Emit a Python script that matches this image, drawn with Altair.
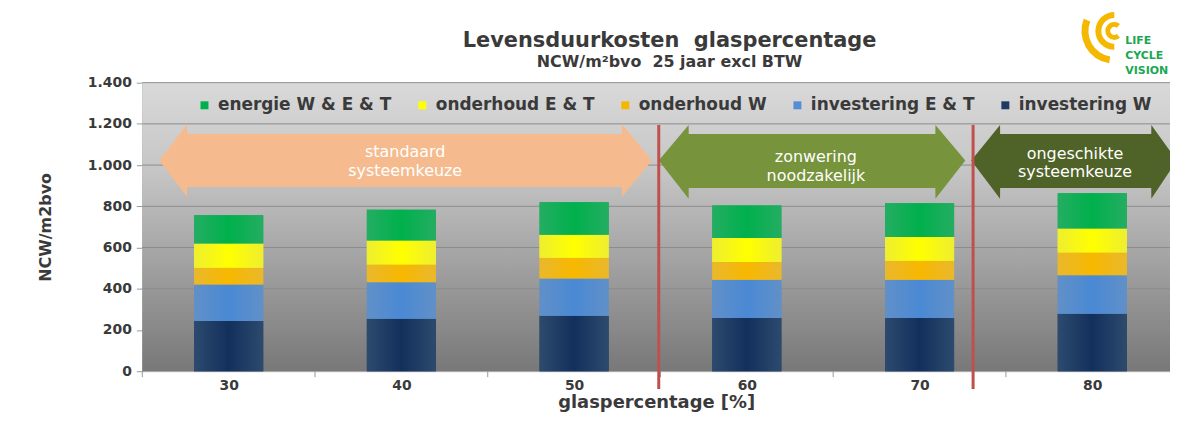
import altair as alt
import pandas as pd
import math

# ---------------- data ----------------
categories = ["30", "40", "50", "60", "70", "80"]
series = ["investering W", "investering E & T", "onderhoud W", "onderhoud E & T", "energie W & E & T"]
investering_W = [243, 254, 269, 258, 258, 279]
investering_ET = [178, 178, 181, 186, 186, 187]
onderhoud_W = [81, 86, 100, 86, 92, 110]
onderhoud_ET = [117, 116, 112, 116, 115, 116]
energie = [137, 149, 158, 158, 164, 171]
y_ticks = [0, 200, 400, 600, 800, 1000, 1200, 1400]

legend_order = ["energie W & E & T", "onderhoud E & T", "onderhoud W", "investering E & T", "investering W"]
solid_colors = {"investering W": "#1f3a63", "investering E & T": "#558ed5", "onderhoud W": "#f5b800",
                "onderhoud E & T": "#ffff00", "energie W & E & T": "#00b050"}
grad_colors = {"investering W": ("#2d4a6e", "#12305c"),
               "investering E & T": ("#6190c8", "#4a89d4"),
               "onderhoud W": ("#e9b82c", "#f8b800"),
               "onderhoud E & T": ("#eeee30", "#ffff00"),
               "energie W & E & T": ("#24ad62", "#00b04c")}

# annotation arrows (in category units / value units)
arrow_labels = ["standaard\nsysteemkeuze", "zonwering\nnoodzakelijk", "ongeschikte\nsysteemkeuze"]
arrow_colors = ["#f5bb8e", "#77933c", "#4f6228"]
arrow_left_tip = [0.098, 2.990, 4.799]
arrow_left_head = [0.259, 3.163, 4.966]
arrow_right_head = [2.777, 4.592, 5.842]
arrow_right_tip = [2.950, 4.765, 5.990]
arrow_mid = [1022, 1022, 1022]
arrow_head_top = [1199, 1194, 1194]
arrow_head_bot = [846, 837, 837]
arrow_shaft_top = [1151, 1151, 1151]
arrow_shaft_bot = [894, 889, 889]
label_x = [1.522, 3.90, 5.40]
label_y = [1062, 1037, 1056]
divider_x = [2.99, 4.81]

W, H = 1033, 290
XMAX = 5.95
FONT = "DejaVu Sans"
TXT = "#3a3a3a"
PAD_TOP, PAD_BOTTOM = 74, 41

# ---------------- tables ----------------
values = [investering_W, investering_ET, onderhoud_W, onderhoud_ET, energie]
rows = []
for i, c in enumerate(categories):
    base = 0
    for s, vals in zip(series, values):
        v = vals[i]
        rows.append({"cat": c, "series": s, "y0": base, "y1": base + v,
                     "xa": i + 0.3, "xb": i + 0.7})
        base += v
bars = pd.DataFrame(rows)

xs = alt.Scale(domain=[0, XMAX], nice=False, zero=False)
ys = alt.Scale(domain=[0, 1400], nice=False)

label_expr = "[" + ",".join("'%s'" % c for c in categories) + "][floor(datum.value)]"

x_axis = alt.Axis(values=[i + 0.5 for i in range(len(categories))], labelExpr=label_expr,
                  ticks=False, tickSize=0, grid=False, labelFont=FONT, labelFontWeight="bold",
                  labelFontSize=14, labelColor=TXT, labelPadding=7, domainColor="#aaaaaa",
                  title="glaspercentage [%]", titleFont=FONT, titleFontWeight="bold",
                  titleFontSize=18, titleColor=TXT, titlePadding=2)
y_axis = alt.Axis(values=y_ticks, grid=False, tickSize=6, tickColor="#999999", domainColor="#999999",
                  labelExpr="replace(format(datum.value, ','), ',', '.')",
                  labelFont=FONT, labelFontWeight="bold", labelFontSize=14, labelColor=TXT,
                  labelPadding=5, title="NCW/m2bvo", titleFont=FONT, titleFontWeight="bold",
                  titleFontSize=16, titleColor=TXT, titlePadding=34)

bg = alt.Chart(pd.DataFrame({"a": [0]})).mark_rect(
    color=alt.LinearGradient(gradient="linear", x1=0, x2=0, y1=0, y2=1,
                             stops=[alt.GradientStop(offset=0, color="#d9d9d9"),
                                    alt.GradientStop(offset=0.3, color="#c6c6c6"),
                                    alt.GradientStop(offset=1, color="#787878")])
).encode(x=alt.value(0), x2=alt.value(W), y=alt.value(0), y2=alt.value(H))

grid = alt.Chart(pd.DataFrame({"v": y_ticks[1:]})).mark_rule(color="#8c8c8c", strokeWidth=1).encode(
    y=alt.Y("v:Q", scale=ys, axis=y_axis), x=alt.value(0), x2=alt.value(W))

xticks = alt.Chart(pd.DataFrame({"b": list(range(len(categories)))})).mark_rule(
    color="#999999").encode(x=alt.X("b:Q", scale=xs, axis=x_axis), y=alt.value(H), y2=alt.value(H + 6))

base_bars = alt.Chart(bars).mark_bar().encode(
    x=alt.X("xa:Q", scale=xs, axis=x_axis), x2="xb:Q",
    y=alt.Y("y0:Q", scale=ys, axis=y_axis), y2="y1:Q",
    color=alt.Color("series:N",
                    scale=alt.Scale(domain=legend_order, range=[solid_colors[s] for s in legend_order]),
                    legend=alt.Legend(orient="none", legendX=54, legendY=14, direction="horizontal",
                                      title=None, symbolType="square", symbolSize=64,
                                      symbolStrokeWidth=0, labelFont=FONT, labelFontWeight="bold",
                                      labelFontSize=17, labelColor=TXT, labelOffset=5,
                                      columnPadding=22, labelLimit=400)))

grad_layers = []
for s in series:
    edge, center = grad_colors[s]
    grad_layers.append(
        alt.Chart(bars).transform_filter(alt.datum.series == s).mark_bar(
            color=alt.LinearGradient(gradient="linear", x1=0, x2=1, y1=0, y2=0,
                                     stops=[alt.GradientStop(offset=0, color=edge),
                                            alt.GradientStop(offset=0.5, color=center),
                                            alt.GradientStop(offset=1, color=edge)])
        ).encode(x=alt.X("xa:Q", scale=xs), x2="xb:Q", y=alt.Y("y0:Q", scale=ys), y2="y1:Q"))

arrow_layers = []
eps = 0.0005
for k in range(len(arrow_labels)):
    pts = [
        (arrow_left_tip[k], arrow_mid[k], arrow_mid[k]),
        (arrow_left_head[k], arrow_head_top[k], arrow_head_bot[k]),
        (arrow_left_head[k] + eps, arrow_shaft_top[k], arrow_shaft_bot[k]),
        (arrow_right_head[k] - eps, arrow_shaft_top[k], arrow_shaft_bot[k]),
        (arrow_right_head[k], arrow_head_top[k], arrow_head_bot[k]),
        (arrow_right_tip[k], arrow_mid[k], arrow_mid[k]),
    ]
    df = pd.DataFrame(pts, columns=["x", "top", "bot"])
    arrow_layers.append(alt.Chart(df).mark_area(color=arrow_colors[k], opacity=1, interpolate="linear").encode(
        x=alt.X("x:Q", scale=xs), y=alt.Y("top:Q", scale=ys), y2="bot:Q"))

arrow_text = alt.Chart(pd.DataFrame({"x": label_x, "y": label_y, "t": arrow_labels})).mark_text(
    color="white", font=FONT, fontSize=16, lineBreak="\n", lineHeight=19, baseline="middle"
).encode(x=alt.X("x:Q", scale=xs), y=alt.Y("y:Q", scale=ys), text="t:N")

dividers = alt.Chart(pd.DataFrame({"x": divider_x, "y": [1195, 1195], "y2": [-86, -86]})).mark_rule(
    color="#c0504d", strokeWidth=3).encode(x=alt.X("x:Q", scale=xs), y=alt.Y("y:Q", scale=ys), y2="y2:Q")

# titles (above the plot)
titles = alt.Chart(pd.DataFrame({
    "t": ["Levensduurkosten\u00a0 glaspercentage", "NCW/m²bvo\u00a0 25 jaar excl BTW"],
    "yy": [-42, -21], "fs": [21, 16]})).mark_text(
    color=TXT, font=FONT, fontWeight="bold", baseline="middle", align="center"
).encode(x=alt.value(673 - 143), y=alt.Y("yy:Q", scale=None), text="t:N",
         size=alt.Size("fs:Q", scale=None, legend=None))

# logo
LX, LY = 977, -52
logo_arcs = alt.Chart(pd.DataFrame({
    "r1": [4, 13, 26], "r2": [9, 19, 33],
    "t1": [math.pi * 0.78, math.pi, math.pi * 1.05],
    "t2": [math.pi * 2.22, math.pi * 2.0, math.pi * 1.62]})).mark_arc(color="#f5b800").encode(
    x=alt.value(LX), y=alt.value(LY), radius=alt.Radius("r1:Q", scale=None),
    radius2=alt.Radius2("r2:Q"), theta=alt.Theta("t1:Q", scale=None), theta2=alt.Theta2("t2:Q"))
logo_text = alt.Chart(pd.DataFrame({"t": ["LIFE", "CYCLE", "VISION"], "yy": [-42, -27, -12]})).mark_text(
    color="#1aa852", font=FONT, fontWeight="bold", fontSize=11, align="left", baseline="middle"
).encode(x=alt.value(988), y=alt.Y("yy:Q", scale=None), text="t:N")

chart = alt.layer(bg, grid, xticks, base_bars, *grad_layers, *arrow_layers, arrow_text, dividers,
                  titles, logo_arcs, logo_text).properties(
    width=W, height=H,
    autosize=alt.AutoSizeParams(type="none"),
    padding={"left": 135, "top": PAD_TOP, "right": 0, "bottom": PAD_BOTTOM},
    background="white",
).resolve_scale(radius="independent", theta="independent", size="independent").configure_view(stroke=None)

chart.save("out.html", embed_options={"renderer": "svg", "actions": False})
